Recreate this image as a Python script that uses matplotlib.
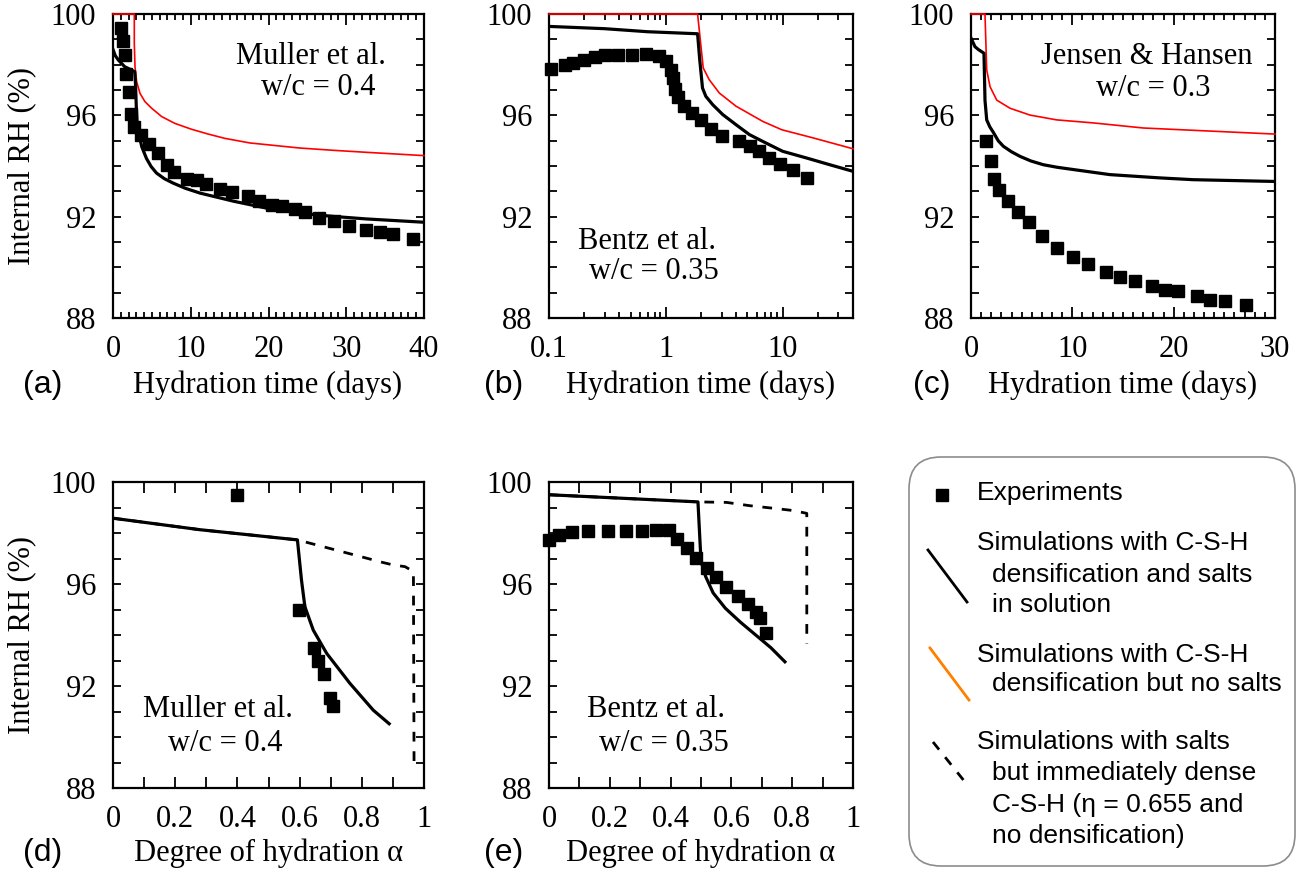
import matplotlib
matplotlib.use("Agg")
import matplotlib.pyplot as plt
from matplotlib.ticker import MultipleLocator, LogLocator, FuncFormatter, NullFormatter
from matplotlib.patches import FancyBboxPatch
from matplotlib.lines import Line2D

plt.rcParams["font.family"] = ["Liberation Serif", "DejaVu Serif"]

# (a) Muller et al., w/c = 0.4  -- RH vs time (days)
a_exp_t = [1.07, 1.29, 1.59, 1.72, 2.02, 2.27, 2.70, 3.65, 4.59, 5.79, 6.95, 7.90, 9.53,
           10.82, 12.02, 13.82, 15.36, 17.34, 18.80, 20.39, 21.80, 23.35, 24.68, 26.52,
           28.45, 30.34, 32.49, 34.33, 36.05, 38.54]
a_exp_rh = [99.45, 98.92, 98.39, 97.64, 96.91, 96.05, 95.54, 95.24, 94.88, 94.51, 94.05,
            93.75, 93.49, 93.43, 93.29, 93.09, 92.96, 92.80, 92.61, 92.47, 92.41, 92.30,
            92.17, 91.95, 91.82, 91.62, 91.46, 91.39, 91.32, 91.13]
a_sim_t = [0, 0.3, 0.7, 1.5, 2.3, 2.8, 2.9, 3.0, 3.1, 3.3, 3.7, 4.3, 4.9, 5.6, 6.6, 7.7,
           9.3, 11.2, 15.5, 19.7, 24, 28.3, 32.6, 40]
a_sim_rh = [98.6, 98.35, 98.18, 97.92, 97.8, 97.72, 97.2, 96.3, 95.7, 95.3, 94.76, 94.3,
            93.98, 93.72, 93.5, 93.33, 93.12, 92.93, 92.61, 92.34, 92.14, 92.01, 91.91, 91.78]
a_nosalt_t = [0, 2.74, 2.74, 2.83, 3.04, 3.47, 4.11, 4.97, 6.26, 7.97, 10.1, 12.25, 14.4,
              17.6, 24.0, 28.3, 32.6, 40]
a_nosalt_rh = [100, 100, 98.84, 97.92, 97.33, 96.87, 96.54, 96.28, 95.95, 95.68, 95.45,
               95.26, 95.09, 94.91, 94.71, 94.62, 94.54, 94.41]

# (b) Bentz et al., w/c = 0.35  -- log time
b_exp_t = [0.104, 0.137, 0.161, 0.199, 0.247, 0.299, 0.387, 0.518, 0.682, 0.877, 1.0,
           1.10, 1.156, 1.19, 1.26, 1.44, 1.69, 2.0, 2.43, 3.03, 4.21, 5.30, 6.24, 7.61,
           9.58, 12.2, 16.2]
b_exp_rh = [97.84, 98.0, 98.07, 98.20, 98.30, 98.37, 98.37, 98.39, 98.42, 98.33, 98.13,
            97.80, 97.47, 97.04, 96.72, 96.38, 96.09, 95.83, 95.46, 95.20, 94.97, 94.78,
            94.58, 94.32, 94.08, 93.86, 93.53]
b_sim_t = [0.1, 0.3, 0.7, 1.87, 1.95, 2.06, 2.20, 2.52, 3.07, 3.99, 5.19, 6.76, 10.0,
           15.9, 25.3, 40]
b_sim_rh = [99.51, 99.42, 99.3, 99.22, 98.2, 97.08, 96.75, 96.42, 96.03, 95.63, 95.24,
            94.97, 94.58, 94.32, 94.05, 93.79]
b_nosalt_t = [0.1, 1.87, 2.09, 2.35, 2.87, 3.99, 6.76, 9.84, 18.2, 40]
b_nosalt_rh = [100, 100, 97.87, 97.41, 96.88, 96.36, 95.76, 95.43, 95.11, 94.68]

# (c) Jensen & Hansen, w/c = 0.3
c_exp_t = [1.45, 1.94, 2.30, 2.80, 3.62, 4.61, 5.72, 7.0, 8.45, 10.1, 11.5, 13.3, 14.7,
           16.2, 17.9, 19.1, 20.4, 22.3, 23.6, 25.1, 27.1]
c_exp_rh = [94.97, 94.18, 93.50, 93.07, 92.61, 92.18, 91.78, 91.22, 90.76, 90.41, 90.13,
            89.80, 89.61, 89.45, 89.28, 89.12, 89.05, 88.88, 88.72, 88.66, 88.53]
c_sim_t = [0, 0.39, 0.72, 1.06, 1.28, 1.38, 1.55, 1.85, 2.2, 2.7, 3.19, 4.0, 4.84, 5.9,
           7.14, 8.5, 10.1, 13.7, 18.65, 21.9, 30]
c_sim_rh = [99.05, 98.71, 98.6, 98.51, 98.45, 96.6, 95.82, 95.55, 95.33, 94.99, 94.78,
            94.56, 94.38, 94.2, 94.05, 93.95, 93.86, 93.66, 93.53, 93.46, 93.39]
c_nosalt_t = [0, 1.38, 1.55, 1.88, 2.54, 3.85, 5.82, 8.46, 12.1, 17.0, 21.9, 30]
c_nosalt_rh = [100, 100, 97.79, 97.13, 96.6, 96.28, 96.01, 95.82, 95.70, 95.5, 95.41, 95.26]

# (d) Muller et al. -- RH vs degree of hydration
d_exp_a = [0.399, 0.599, 0.647, 0.660, 0.678, 0.697, 0.708]
d_exp_rh = [99.48, 94.98, 93.50, 92.99, 92.49, 91.51, 91.21]
d_sim_a = [0, 0.279, 0.593, 0.606, 0.617, 0.644, 0.687, 0.762, 0.837, 0.888]
d_sim_rh = [98.58, 98.13, 97.73, 96.16, 95.11, 94.19, 93.28, 92.1, 91.05, 90.52]
d_dense_a = [0, 0.279, 0.593, 0.869, 0.90, 0.939, 0.966, 0.968]
d_dense_rh = [98.58, 98.13, 97.73, 96.84, 96.75, 96.68, 96.49, 88.95]

# (e) Bentz et al. -- RH vs degree of hydration
e_exp_a = [0.001, 0.034, 0.075, 0.129, 0.193, 0.252, 0.307, 0.352, 0.395, 0.422, 0.453,
           0.482, 0.519, 0.549, 0.581, 0.622, 0.654, 0.681, 0.694, 0.714]
e_exp_rh = [97.73, 97.92, 98.05, 98.08, 98.08, 98.08, 98.08, 98.1, 98.1, 97.76, 97.4,
            97.03, 96.64, 96.26, 95.9, 95.53, 95.2, 94.91, 94.65, 94.09]
e_sim_a = [0.0, 0.49, 0.50, 0.515, 0.54, 0.58, 0.63, 0.68, 0.73, 0.776]
e_sim_rh = [99.5, 99.22, 96.9, 96.3, 95.65, 95.05, 94.5, 94.0, 93.5, 92.95]
e_dense_a = [0.0, 0.49, 0.584, 0.661, 0.738, 0.804, 0.848, 0.848]
e_dense_rh = [99.5, 99.22, 99.2, 99.07, 98.97, 98.88, 98.77, 93.65]

W, H = 1307, 876
fig = plt.figure(figsize=(W / 100, H / 100), dpi=100)


def box(left, top, right, bottom):
    return [left / W, 1 - bottom / H, (right - left) / W, (bottom - top) / H]


def style(ax):
    ax.set_ylim(88, 100)
    ax.yaxis.set_major_locator(MultipleLocator(4))
    ax.yaxis.set_minor_locator(MultipleLocator(1))
    ax.tick_params(which="both", direction="in", top=True, right=True,
                   labelsize=22, width=1.3)
    ax.tick_params(axis="y", which="both", length=6, pad=12)
    ax.tick_params(axis="x", which="major", length=8, pad=12)
    ax.tick_params(axis="x", which="minor", length=4)
    for s in ax.spines.values():
        s.set_linewidth(1.6)


def plot_set(ax, xe, ye, xs, ys, xr=None, yr=None, dashed=False):
    if dashed:
        ax.plot(xr, yr, color="black", lw=2.0, ls=(0, (3.5, 3.5)), zorder=3)
    elif xr is not None:
        ax.plot(xr, yr, color="red", lw=1.2, zorder=3, clip_on=False)
    ax.plot(xs, ys, color="black", lw=2.3, zorder=4)
    ax.plot(xe, ye, "s", color="black", ms=8.5, zorder=5, clip_on=False)


fmt = FuncFormatter(lambda v, _: f"{v:g}")

# top row
ax_a = fig.add_axes(box(113, 14, 424, 318))
plot_set(ax_a, a_exp_t, a_exp_rh, a_sim_t, a_sim_rh, a_nosalt_t, a_nosalt_rh)
ax_a.set_xlim(0, 40)
style(ax_a)
ax_a.xaxis.set_major_locator(MultipleLocator(10))
ax_a.xaxis.set_minor_locator(MultipleLocator(1))

ax_b = fig.add_axes(box(549, 14, 853, 318))
plot_set(ax_b, b_exp_t, b_exp_rh, b_sim_t, b_sim_rh, b_nosalt_t, b_nosalt_rh)
ax_b.set_xscale("log")
ax_b.set_xlim(0.1, 40)
style(ax_b)
ax_b.xaxis.set_major_locator(LogLocator(base=10))
ax_b.xaxis.set_minor_locator(LogLocator(base=10, subs=range(2, 10)))
ax_b.xaxis.set_major_formatter(fmt)
ax_b.xaxis.set_minor_formatter(NullFormatter())

ax_c = fig.add_axes(box(971, 14, 1275, 318))
plot_set(ax_c, c_exp_t, c_exp_rh, c_sim_t, c_sim_rh, c_nosalt_t, c_nosalt_rh)
ax_c.set_xlim(0, 30)
style(ax_c)
ax_c.xaxis.set_major_locator(MultipleLocator(10))
ax_c.xaxis.set_minor_locator(MultipleLocator(1))

# bottom row
ax_d = fig.add_axes(box(113, 482, 424, 788))
plot_set(ax_d, d_exp_a, d_exp_rh, d_sim_a, d_sim_rh, d_dense_a, d_dense_rh, dashed=True)
ax_e = fig.add_axes(box(549, 482, 853, 788))
plot_set(ax_e, e_exp_a, e_exp_rh, e_sim_a, e_sim_rh, e_dense_a, e_dense_rh, dashed=True)
for ax in (ax_d, ax_e):
    ax.set_xlim(0, 1)
    style(ax)
    ax.xaxis.set_major_locator(MultipleLocator(0.2))
    ax.xaxis.set_minor_locator(MultipleLocator(0.1))
    ax.xaxis.set_major_formatter(fmt)
    ax.tick_params(axis="x", which="minor", length=8)

# annotations
ax_a.text(0.637, 0.859, "Muller et al.", transform=ax_a.transAxes, ha="center", va="center", fontsize=22)
ax_a.text(0.659, 0.757, "w/c = 0.4", transform=ax_a.transAxes, ha="center", va="center", fontsize=22)
ax_b.text(0.321, 0.251, "Bentz et al.", transform=ax_b.transAxes, ha="center", va="center", fontsize=22)
ax_b.text(0.345, 0.152, "w/c = 0.35", transform=ax_b.transAxes, ha="center", va="center", fontsize=22)
ax_c.text(0.578, 0.860, "Jensen & Hansen", transform=ax_c.transAxes, ha="center", va="center", fontsize=22)
ax_c.text(0.600, 0.755, "w/c = 0.3", transform=ax_c.transAxes, ha="center", va="center", fontsize=22)
ax_d.text(0.336, 0.255, "Muller et al.", transform=ax_d.transAxes, ha="center", va="center", fontsize=22)
ax_d.text(0.360, 0.146, "w/c = 0.4", transform=ax_d.transAxes, ha="center", va="center", fontsize=22)
ax_e.text(0.351, 0.255, "Bentz et al.", transform=ax_e.transAxes, ha="center", va="center", fontsize=22)
ax_e.text(0.378, 0.146, "w/c = 0.35", transform=ax_e.transAxes, ha="center", va="center", fontsize=22)

# axis labels and panel letters (pixel positions)
def ftext(x, y, s, **kw):
    fig.text(x / W, 1 - y / H, s, ha="center", va="center", **kw)

ftext(22, 166, "Internal RH (%)", fontsize=22, rotation=90)
ftext(22, 635, "Internal RH (%)", fontsize=22, rotation=90)
for x, s in [(268, "Hydration time (days)"), (701, "Hydration time (days)"), (1123, "Hydration time (days)")]:
    ftext(x, 385, s, fontsize=22)
for x in (268, 701):
    ftext(x, 853, "Degree of hydration α", fontsize=22)
sans = ["Liberation Sans", "DejaVu Sans"]
for x, y, s in [(43, 385, "(a)"), (504, 385, "(b)"), (932, 385, "(c)"), (43, 853, "(d)"), (504, 853, "(e)")]:
    ftext(x, y, s, fontsize=23, family=sans)

# legend panel drawn in pixel coordinates
leg = fig.add_axes([0, 0, 1, 1])
leg.set_xlim(0, W)
leg.set_ylim(H, 0)
leg.axis("off")
leg.add_patch(FancyBboxPatch((909, 457), 386, 409, boxstyle="round,pad=0,rounding_size=32",
                             fc="white", ec="#8c8c8c", lw=1.2))
leg.plot([942], [495], "s", color="black", ms=9)
leg.add_line(Line2D([928, 967], [550, 602], color="black", lw=2))
leg.add_line(Line2D([930, 969], [648, 700], color="#ff8000", lw=2))
leg.add_line(Line2D([933, 969], [742, 787], color="black", lw=2, ls=(0, (3.5, 3.5))))
legend_lines = [
    (977, 493, "Experiments"),
    (977, 543, "Simulations with C-S-H"),
    (992, 575, "densification and salts"),
    (992, 605, "in solution"),
    (977, 655, "Simulations with C-S-H"),
    (992, 684, "densification but no salts"),
    (977, 742, "Simulations with salts"),
    (992, 773, "but immediately dense"),
    (992, 805, "C-S-H (η = 0.655 and"),
    (992, 836, "no densification)"),
]
for x, y, s in legend_lines:
    leg.text(x, y, s, ha="left", va="center", fontsize=19, family=sans)

fig.savefig("out.png", dpi=100)
